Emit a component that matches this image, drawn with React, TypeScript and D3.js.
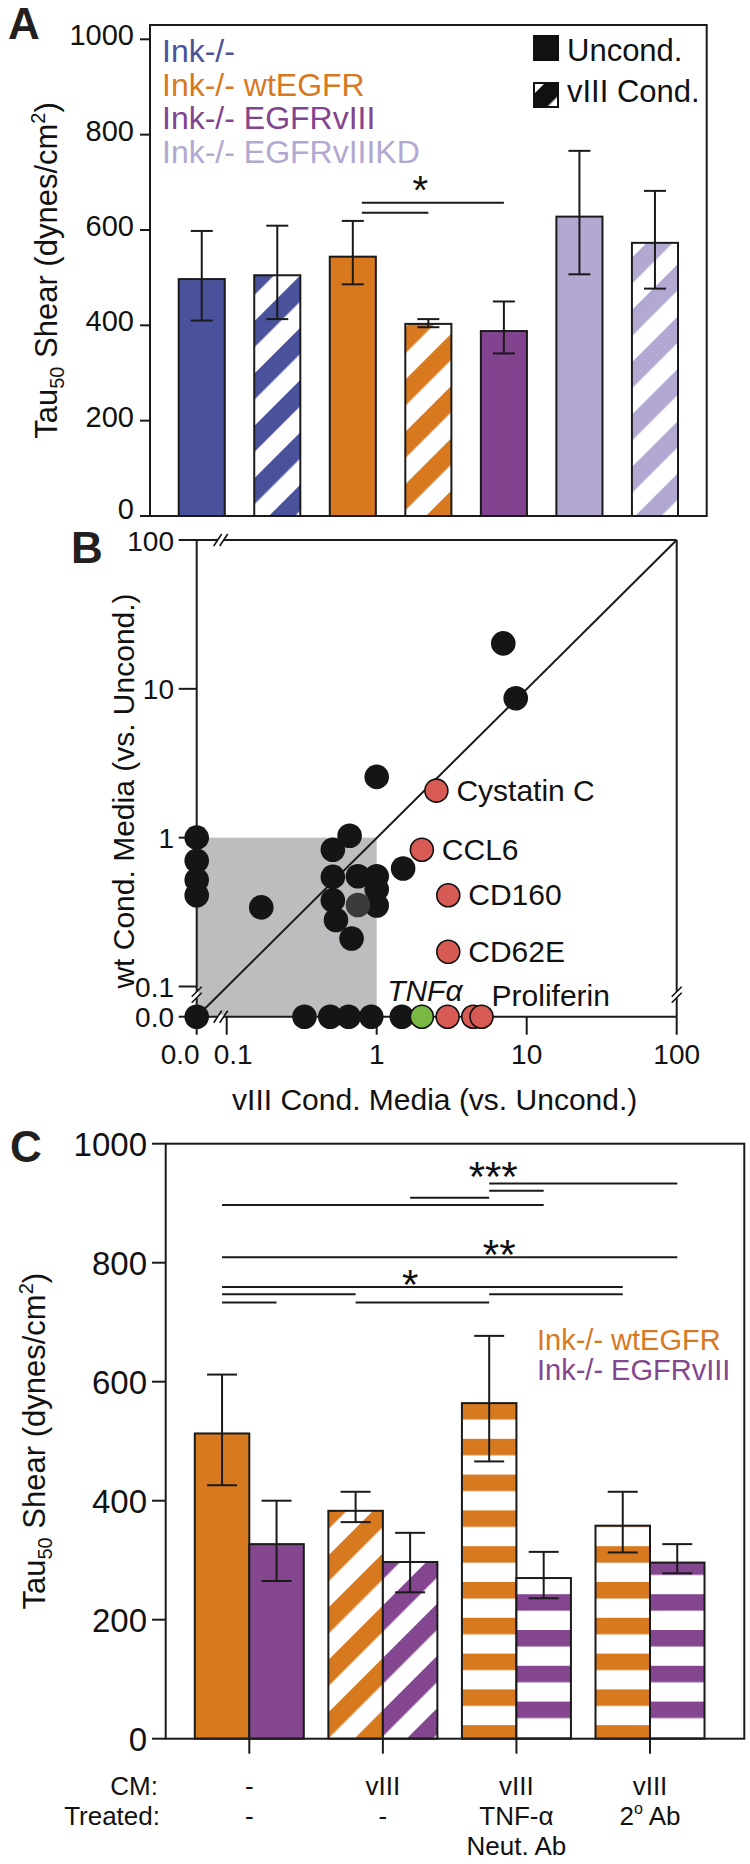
import React from 'react';
import * as d3 from 'd3';

const FONT = "'Liberation Sans', Arial, Helvetica, sans-serif";

// ---------------- Panel A data ----------------
const aLegendLabels = ['Ink-/-', 'Ink-/- wtEGFR', 'Ink-/- EGFRvIII', 'Ink-/- EGFRvIIIKD'];
const aLineColors = ['#4a529c', '#d8791f', '#83448f', '#b2a8d2'];
const aBarLine = [0, 0, 1, 1, 2, 3, 3];
const aBarHatched = [false, true, false, true, false, false, true];
const aMean = [497, 505, 544, 403, 388, 628, 573];
const aErrHigh = [598, 609, 619, 413, 450, 766, 682];
const aErrLow = [410, 413, 486, 396, 341, 507, 477];
const aYTicks = [0, 200, 400, 600, 800, 1000];
const aCondLegend = ['Uncond.', 'vIII Cond.'];
const aSigFrom = [2, 2];
const aSigTo = [4, 3];
const aSigLevel = [657, 636];
const aStarLevel = 703;

// ---------------- Panel B data ----------------
const bTicks = [0.1, 1, 10, 100];
const bBlackX = [0, 0, 0, 0, 0, 0.17, 0.33, 0.49, 0.65, 0.92, 1.47, 0.51, 0.66, 0.51, 0.51, 0.535, 0.68, 0.75, 1.0, 1.0, 1.0, 1.5, 1.0, 6.98, 8.45];
const bBlackY = [0, 1.0, 0.7, 0.52, 0.41, 0.34, 0, 0, 0, 0, 0, 0.83, 1.03, 0.545, 0.38, 0.28, 0.21, 0.55, 0.55, 0.45, 0.35, 0.62, 2.56, 20.2, 8.65];
const bGrayX = [0.75];
const bGrayY = [0.353];
const bRedX = [2.5, 2.0, 3.0, 3.0, 2.97, 4.4, 5.0];
const bRedY = [2.07, 0.83, 0.41, 0.171, 0, 0, 0];
const bRedLabels = ['Cystatin C', 'CCL6', 'CD160', 'CD62E', '', '', 'Proliferin'];
const bGreenX = [2.0];
const bGreenY = [0];
const bGreenLabels = ['TNFα'];

// ---------------- Panel C data ----------------
const cCM = ['-', 'vIII', 'vIII', 'vIII'];
const cTreated = ['-', '-', 'TNF-α', '2°Ab'];
const cTreated2 = ['', '', 'Neut. Ab', ''];
const cLineLabels = ['Ink-/- wtEGFR', 'Ink-/- EGFRvIII'];
const cLineColors = ['#d6791f', '#84468f'];
const cFillStyle = ['solid', 'diagonal', 'horizontal', 'horizontal'];
const cWtMean = [513, 383, 564, 358];
const cWtHigh = [612, 415, 677, 415];
const cWtLow = [426, 364, 466, 313];
const cViiiMean = [327, 297, 270, 296];
const cViiiHigh = [400, 346, 314, 327];
const cViiiLow = [265, 246, 236, 278];
const cYTicks = [0, 200, 400, 600, 800, 1000];
const cSigFrom = [0, 3, 4, 4, 0, 0, 0, 4, 0, 2];
const cSigTo = [5, 4, 5, 7, 7, 6, 2, 6, 1, 4];
const cSigLevel = [897, 909, 921, 933, 809, 759, 747, 747, 733, 733];
const cStars = ['***', '**', '*'];
const cStarBar = [4, 4, 3];
const cStarLevel = [959, 828, 778];

const diagPattern = (id: string, color: string) => (
  <pattern key={id} id={id} patternUnits="userSpaceOnUse" width={37} height={37} patternTransform="rotate(45)">
    <rect width={37} height={37} fill="#fff" />
    <rect width={18.5} height={37} fill={color} />
  </pattern>
);

const horizPattern = (id: string, color: string, phase: number) => (
  <pattern key={id} id={id} patternUnits="userSpaceOnUse" x={0} y={phase} width={20} height={35.8}>
    <rect width={20} height={35.8} fill="#fff" />
    <rect width={20} height={16.5} fill={color} />
  </pattern>
);

const breakV = (x: number, y: number, key: string) => (
  <g key={key}>
    <rect x={x - 2} y={y - 3} width={4} height={6} fill="#fff" />
    <line x1={x - 5} y1={y - 3 + 5} x2={x + 5} y2={y - 3 - 5} stroke="#111" strokeWidth={1.6} />
    <line x1={x - 5} y1={y + 3 + 5} x2={x + 5} y2={y + 3 - 5} stroke="#111" strokeWidth={1.6} />
  </g>
);

const breakH = (x: number, y: number, key: string) => (
  <g key={key}>
    <rect x={x - 3} y={y - 2} width={6} height={4} fill="#fff" />
    <line x1={x - 3 - 4} y1={y + 6} x2={x - 3 + 4} y2={y - 6} stroke="#111" strokeWidth={1.6} />
    <line x1={x + 3 - 4} y1={y + 6} x2={x + 3 + 4} y2={y - 6} stroke="#111" strokeWidth={1.6} />
  </g>
);

export default function App() {
  // ---- Panel A scales ----
  const aX = d3.scaleBand<number>().domain(d3.range(aMean.length)).range([150, 706.7]).paddingInner(0.39).paddingOuter(0.38);
  const aY = d3.scaleLinear().domain([0, 1000]).range([516, 39.3]);
  const aBw = aX.bandwidth();
  const aC = (i: number) => (aX(i) as number) + aBw / 2;

  // ---- Panel B scales ----
  const bX = d3.scaleLog().domain([0.1, 100]).range([226.7, 676.7]);
  const bY = d3.scaleLog().domain([0.1, 100]).range([986.5, 540]);
  const bx = (v: number) => (v === 0 ? bX(0.1) - 30 : bX(v));
  const by = (v: number) => (v === 0 ? bY(0.1) + 30.2 : bY(v));
  const bLeft = bx(0), bBottom = by(0), bTop = bY(100), bRight = bX(100);

  // ---- Panel C scales ----
  const cY = d3.scaleLinear().domain([0, 1000]).range([1738.7, 1143.7]);
  const cG = d3.scaleLinear().domain([0, cCM.length - 1]).range([249.3, 650]);
  const cBw = 54.5;
  const cBarX = (i: number) => cG(Math.floor(i / 2)) + (i % 2 === 0 ? -cBw : 0);
  const cBarCenter = (i: number) => cBarX(i) + cBw / 2;
  const cBarMean = (i: number) => (i % 2 === 0 ? cWtMean : cViiiMean)[Math.floor(i / 2)];
  const cBarHigh = (i: number) => (i % 2 === 0 ? cWtHigh : cViiiHigh)[Math.floor(i / 2)];
  const cBarLow = (i: number) => (i % 2 === 0 ? cWtLow : cViiiLow)[Math.floor(i / 2)];
  const cBars = d3.range(cCM.length * 2);
  const cFillFor = (i: number) => {
    const g = Math.floor(i / 2), l = i % 2;
    const st = cFillStyle[g];
    if (st === 'solid') return cLineColors[l];
    if (st === 'diagonal') return `url(#cdiag${l})`;
    return `url(#chor${l})`;
  };

  const stroke = '#1a1a1a';

  return (
    <svg width={750} height={1864} style={{ position: 'absolute', left: 0, top: 0, background: '#fff' }} fontFamily={FONT}>
      <defs>
        {aLineColors.map((c, i) => diagPattern(`adiag${i}`, c))}
        {diagPattern('legdiag', '#111')}
        {cLineColors.map((c, i) => diagPattern(`cdiag${i}`, c))}
        {horizPattern('chor0', cLineColors[0], 6.8)}
        {horizPattern('chor1', cLineColors[1], 19)}
      </defs>
      <rect width={750} height={1864} fill="#fff" />

      {/* ================= Panel A ================= */}
      <text x={8} y={39} fontSize={44} fontWeight="bold" fill="#231f20">A</text>
      {aMean.map((v, i) => (
        <rect key={`ab${i}`} x={aX(i)} y={aY(v)} width={aBw} height={aY(0) - aY(v)}
          fill={aBarHatched[i] ? `url(#adiag${aBarLine[i]})` : aLineColors[aBarLine[i]]}
          stroke={stroke} strokeWidth={2} />
      ))}
      {aMean.map((v, i) => (
        <g key={`ae${i}`} stroke={stroke} strokeWidth={2}>
          <line x1={aC(i)} x2={aC(i)} y1={aY(aErrHigh[i])} y2={aY(aErrLow[i])} />
          <line x1={aC(i) - 11} x2={aC(i) + 11} y1={aY(aErrHigh[i])} y2={aY(aErrHigh[i])} />
          <line x1={aC(i) - 11} x2={aC(i) + 11} y1={aY(aErrLow[i])} y2={aY(aErrLow[i])} />
        </g>
      ))}
      <rect x={150} y={25} width={706.7 - 150} height={aY(0) - 25} fill="none" stroke={stroke} strokeWidth={2} />
      {aYTicks.map((t) => (
        <g key={`at${t}`}>
          <line x1={140} x2={150} y1={aY(t)} y2={aY(t)} stroke={stroke} strokeWidth={2} />
          <text x={134} y={aY(t) + (t === 0 ? 3 : 6)} textAnchor="end" fontSize={29} fill="#111">{t}</text>
        </g>
      ))}
      <text transform={`translate(57,${(25 + aY(0)) / 2}) rotate(-90)`} textAnchor="middle" fontSize={31} fill="#111">
        Tau<tspan fontSize={20} dy={7}>50</tspan><tspan dy={-7}> Shear (dynes/cm</tspan><tspan fontSize={20} dy={-12}>2</tspan><tspan dy={12}>)</tspan>
      </text>
      {aLegendLabels.map((l, i) => (
        <text key={`al${i}`} x={162} y={62 + i * 33.5} fontSize={32} fill={aLineColors[i]}>{l}</text>
      ))}
      {aCondLegend.map((l, i) => (
        <g key={`ac${i}`}>
          <rect x={534} y={36 + i * 47} width={24} height={24} fill={i === 0 ? '#111' : 'url(#legdiag)'} stroke="#111" strokeWidth={2} />
          <text x={567} y={61 + i * 41} fontSize={31} fill="#111">{l}</text>
        </g>
      ))}
      {aSigFrom.map((f, i) => (
        <line key={`as${i}`} x1={aC(f) + 9} x2={aC(aSigTo[i])} y1={aY(aSigLevel[i])} y2={aY(aSigLevel[i])} stroke={stroke} strokeWidth={2} />
      ))}
      <text x={(aC(aSigFrom[0]) + aC(aSigTo[0])) / 2 - 8} y={aY(aStarLevel) + 23} textAnchor="middle" fontSize={40} fill="#111">*</text>

      {/* ================= Panel B ================= */}
      <text x={71} y={563} fontSize={44} fontWeight="bold" fill="#231f20">B</text>
      <rect x={bLeft} y={bY(1)} width={bX(1) - bLeft} height={bBottom - bY(1)} fill="#bdbdc0" />
      <line x1={bLeft} y1={bBottom} x2={bRight} y2={bTop} stroke={stroke} strokeWidth={2} />
      {/* axes / frame */}
      <line x1={bLeft} x2={bLeft} y1={bTop} y2={bBottom} stroke={stroke} strokeWidth={2} />
      <line x1={bLeft - 18} x2={bRight} y1={bTop} y2={bTop} stroke={stroke} strokeWidth={2} />
      <line x1={bRight} x2={bRight} y1={bTop} y2={bBottom} stroke={stroke} strokeWidth={2} />
      <line x1={bLeft} x2={bRight} y1={bBottom} y2={bBottom} stroke={stroke} strokeWidth={2} />
      {[...bTicks.slice(0, 3), 0].map((t) => (
        <line key={`byt${t}`} x1={bLeft - 18} x2={bLeft} y1={by(t)} y2={by(t)} stroke={stroke} strokeWidth={2} />
      ))}
      {[0, ...bTicks].map((t) => (
        <line key={`bxt${t}`} x1={bx(t)} x2={bx(t)} y1={bBottom} y2={bBottom + 18} stroke={stroke} strokeWidth={2} />
      ))}
      {[...bTicks, 0].map((t) => (
        <text key={`byl${t}`} x={174} y={by(t) + (t === 100 ? 11 : 10)} textAnchor="end" fontSize={28} fill="#111">{t === 0 ? '0.0' : String(t)}</text>
      ))}
      <text x={bx(0) + 3} y={1064} textAnchor="end" fontSize={28} fill="#111">0.0</text>
      {bTicks.map((t) => (
        <text key={`bxl${t}`} x={t === 0.1 ? bx(t) - 13 : bx(t)} y={1064} textAnchor={t === 0.1 ? 'start' : 'middle'} fontSize={28} fill="#111">{String(t)}</text>
      ))}
      {breakH(bLeft + 24, bTop, 'brk1')}
      {breakH(bLeft + 24, bBottom, 'brk2')}
      {breakV(bLeft, bBottom - 22, 'brk3')}
      {breakV(bRight, bBottom - 22, 'brk4')}
      <text x={(bLeft + bRight) / 2 - 2} y={1110} textAnchor="middle" fontSize={30} fill="#111">vIII Cond. Media (vs. Uncond.)</text>
      <text transform={`translate(134,791) rotate(-90)`} textAnchor="middle" fontSize={30} fill="#111">wt Cond. Media (vs. Uncond.)</text>
      {bBlackX.map((v, i) => (
        <circle key={`bk${i}`} cx={bx(v)} cy={by(bBlackY[i])} r={12.3} fill="#151515" />
      ))}
      {bGrayX.map((v, i) => (
        <circle key={`bg${i}`} cx={bx(v)} cy={by(bGrayY[i])} r={12.3} fill="#3a3a3c" />
      ))}
      {bRedX.map((v, i) => (
        <circle key={`br${i}`} cx={bx(v)} cy={by(bRedY[i])} r={11.5} fill="#d85a55" stroke="#111" strokeWidth={1.6} />
      ))}
      {bGreenX.map((v, i) => (
        <circle key={`bgr${i}`} cx={bx(v)} cy={by(bGreenY[i])} r={11.5} fill="#78b843" stroke="#111" strokeWidth={1.6} />
      ))}
      {bRedLabels.map((l, i) => l === '' ? null : (
        <text key={`brl${i}`} x={bx(bRedX[i]) + (bRedY[i] === 0 ? 10 : 20)} y={by(bRedY[i]) + (bRedY[i] === 0 ? -11 : 10)} fontSize={30} fill="#111">{l}</text>
      ))}
      {bGreenLabels.map((l, i) => (
        <text key={`bgl${i}`} x={bx(bGreenX[i]) + 3} y={by(bGreenY[i]) - 16} textAnchor="middle" fontSize={30} fontStyle="italic" fill="#111">{l}</text>
      ))}

      {/* ================= Panel C ================= */}
      <text x={10} y={1162} fontSize={44} fontWeight="bold" fill="#231f20">C</text>
      {cBars.map((i) => (
        <rect key={`cb${i}`} x={cBarX(i)} y={cY(cBarMean(i))} width={cBw} height={cY(0) - cY(cBarMean(i))}
          fill={cFillFor(i)} stroke={stroke} strokeWidth={2} />
      ))}
      {cBars.map((i) => (
        <g key={`ce${i}`} stroke={stroke} strokeWidth={2}>
          <line x1={cBarCenter(i)} x2={cBarCenter(i)} y1={cY(cBarHigh(i))} y2={cY(cBarLow(i))} />
          <line x1={cBarCenter(i) - 15} x2={cBarCenter(i) + 15} y1={cY(cBarHigh(i))} y2={cY(cBarHigh(i))} />
          <line x1={cBarCenter(i) - 15} x2={cBarCenter(i) + 15} y1={cY(cBarLow(i))} y2={cY(cBarLow(i))} />
        </g>
      ))}
      <rect x={165.7} y={cY(1000)} width={744.3 - 165.7} height={cY(0) - cY(1000)} fill="none" stroke={stroke} strokeWidth={2} />
      {cYTicks.map((t) => (
        <g key={`ct${t}`}>
          <line x1={152} x2={165.7} y1={cY(t)} y2={cY(t)} stroke={stroke} strokeWidth={2} />
          <text x={147} y={cY(t)} dy="0.36em" textAnchor="end" fontSize={33} fill="#111">{t}</text>
        </g>
      ))}
      {cCM.map((_, g) => (
        <line key={`cxt${g}`} x1={cG(g)} x2={cG(g)} y1={cY(0)} y2={cY(0) + 15} stroke={stroke} strokeWidth={2} />
      ))}
      <text transform={`translate(45,${(cY(0) + cY(1000)) / 2}) rotate(-90)`} textAnchor="middle" fontSize={31} fill="#111">
        Tau<tspan fontSize={20} dy={7}>50</tspan><tspan dy={-7}> Shear (dynes/cm</tspan><tspan fontSize={20} dy={-12}>2</tspan><tspan dy={12}>)</tspan>
      </text>
      {cSigFrom.map((f, i) => (
        <line key={`cs${i}`} x1={cBarCenter(f)} x2={cBarCenter(cSigTo[i])} y1={cY(cSigLevel[i])} y2={cY(cSigLevel[i])} stroke={stroke} strokeWidth={2} />
      ))}
      {cStars.map((s, i) => (
        <text key={`cst${i}`} x={cBarCenter(cStarBar[i]) + (i === 0 ? 4 : i === 1 ? 10 : 0)} y={cY(cStarLevel[i]) + 23} textAnchor="middle" fontSize={42} fill="#111">{s}</text>
      ))}
      {cLineLabels.map((l, i) => (
        <text key={`cl${i}`} x={537} y={1350 + i * 30} fontSize={29} fill={cLineColors[i]}>{l}</text>
      ))}
      <text x={158} y={1795} textAnchor="end" fontSize={26} fill="#111">CM:</text>
      <text x={160} y={1825} textAnchor="end" fontSize={26} fill="#111">Treated:</text>
      {cCM.map((l, g) => (
        <text key={`ccm${g}`} x={cG(g)} y={1795} textAnchor="middle" fontSize={26} fill="#111">{l}</text>
      ))}
      {cTreated.map((l, g) => {
        const parts = l.split('°');
        return (
          <text key={`ctr${g}`} x={cG(g)} y={1825} textAnchor="middle" fontSize={26} fill="#111">
            {parts.length === 2 ? (<>{parts[0]}<tspan fontSize={16} dy={-11}>o</tspan><tspan dy={11}>{' ' + parts[1]}</tspan></>) : l}
          </text>
        );
      })}
      {cTreated2.map((l, g) => l === '' ? null : (
        <text key={`ctr2${g}`} x={cG(g)} y={1855} textAnchor="middle" fontSize={26} fill="#111">{l}</text>
      ))}
    </svg>
  );
}
